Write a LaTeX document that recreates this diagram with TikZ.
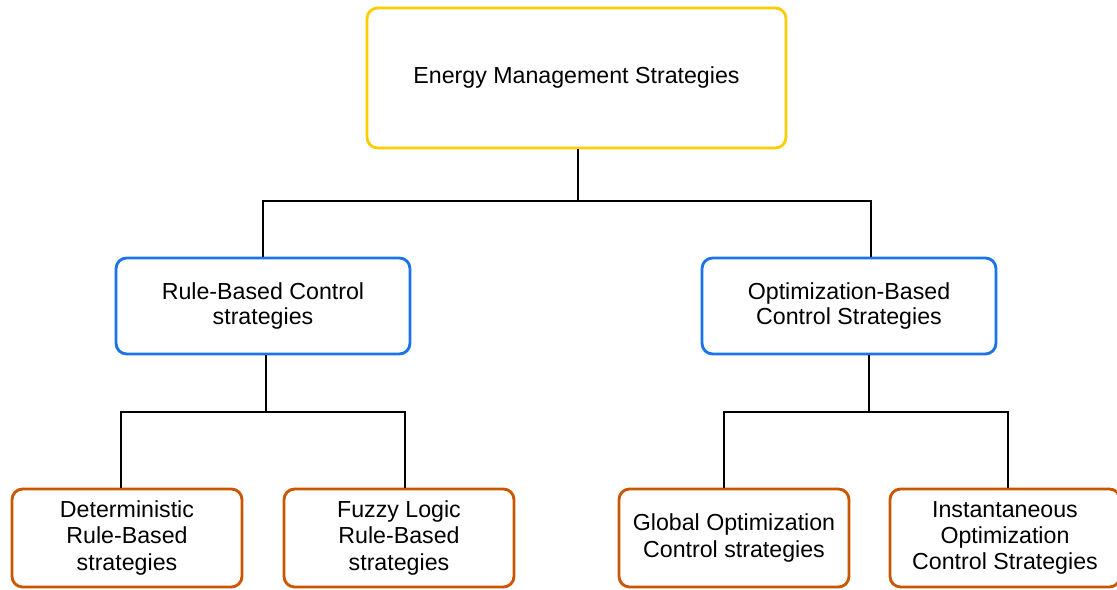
\documentclass[tikz,border=0pt]{standalone}
\usepackage{fontspec}
\setmainfont{Liberation Sans}
\definecolor{emsyellow}{HTML}{FFCC00}
\definecolor{stratblue}{HTML}{1A73E8}
\definecolor{leaforange}{HTML}{CC5500}
\tikzset{
  box/.style={draw, rounded corners=6pt, line width=1.6pt, align=center, fill=white,
    font=\fontsize{13.2}{14.6}\selectfont, inner sep=0pt},
  topbox/.style={box, draw=emsyellow, minimum width=8.38cm, minimum height=2.8cm},
  midbox/.style={box, draw=stratblue, minimum width=5.88cm, minimum height=1.92cm},
  leafbox/.style={box, draw=leaforange, minimum width=4.6cm, minimum height=1.96cm,
    font=\fontsize{13.2}{14.9}\selectfont},
  link/.style={line width=1.1pt}
}
\begin{document}
  \begin{tikzpicture}[x=0.02cm,y=-0.02cm]
    \useasboundingbox (0,0) rectangle (1117,590);

    \node[topbox] (ems) at (576.5,78) {\raisebox{-0.06cm}{Energy Management Strategies}};

    \node[midbox] (rbc) at (263,306) {Rule-Based Control\\strategies};
    \node[midbox] (obc) at (849,306) {Optimization-Based\\Control Strategies};

    \node[leafbox] (drb) at (127,538) {Deterministic\\Rule-Based\\strategies};
    \node[leafbox] (flrb) at (399,538) {Fuzzy Logic\\Rule-Based\\strategies};
    \node[leafbox] (goc) at (734,538) {Global Optimization\\Control strategies};
    \node[leafbox] (ioc) at (1005,538) {Instantaneous\\Optimization\\Control Strategies};

    % first level
    \draw[link] ([xshift=0.03cm]ems.south) -- ++(0,52) coordinate (jtop);
    \draw[link] (jtop) -| (rbc.north);
    \draw[link] (jtop) -| ([xshift=0.44cm]obc.north);

    % rule-based branch
    \draw[link] ([xshift=0.06cm]rbc.south) -- ++(0,57) coordinate (jrbc);
    \draw[link] (jrbc) -| ([xshift=-0.12cm]drb.north);
    \draw[link] (jrbc) -| ([xshift=0.12cm]flrb.north);

    % optimization branch
    \draw[link] ([xshift=0.4cm]obc.south) -- ++(0,57) coordinate (jobc);
    \draw[link] (jobc) -| ([xshift=-0.2cm]goc.north);
    \draw[link] (jobc) -| ([xshift=0.06cm]ioc.north);
  \end{tikzpicture}
\end{document}
